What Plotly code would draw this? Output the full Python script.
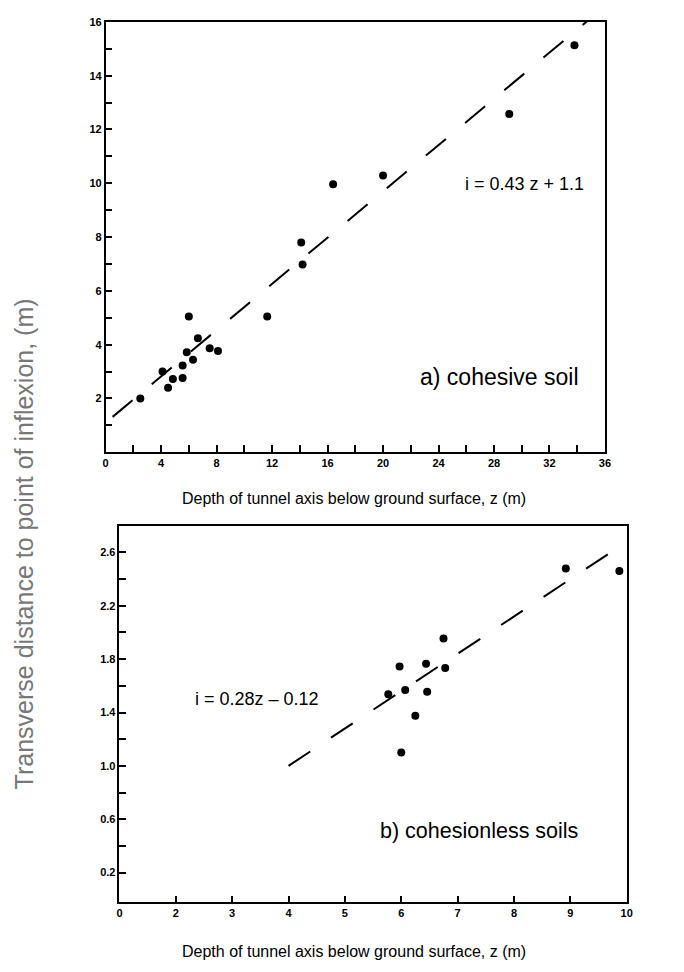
import plotly.graph_objects as go

# ---- data: a) cohesive soil ----
cohesive_z = [2.5, 4.5, 4.1, 4.85, 5.55, 5.55, 5.85, 6.3, 6.0, 6.65, 7.5, 8.1, 11.65, 14.2,
              14.1, 16.4, 20.0, 29.1, 33.8]
cohesive_i = [2.0, 2.4, 3.0, 2.72, 2.76, 3.22, 3.72, 3.44, 5.05, 4.24, 3.87, 3.76, 5.05, 6.98,
              7.8, 9.96, 10.29, 12.58, 15.13]
cohesive_fit = {"slope": 0.43, "intercept": 1.1, "z_from": 0.5, "z_to": 36}

# ---- data: b) cohesionless soils ----
cohesionless_z = [8.92, 9.87, 6.75, 5.97, 6.44, 6.78, 5.77, 6.07, 6.46, 6.25, 6.0]
cohesionless_i = [2.48, 2.46, 1.955, 1.745, 1.765, 1.733, 1.536, 1.568, 1.556, 1.376, 1.10]
cohesionless_fit = {"slope": 0.28, "intercept": -0.12, "z_from": 4.0, "z_to": 10.0}

# ---- tick labels ----
top_x_ticks = list(range(0, 37, 2))
top_x_text = [str(v) if v % 4 == 0 else "" for v in top_x_ticks]
top_y_ticks = list(range(1, 17))
top_y_text = [str(v) if v % 2 == 0 else "" for v in top_y_ticks]
bot_x_ticks = [1, 2, 3, 4, 5, 6, 7, 8, 9, 10]
bot_x_text = ["0", "2", "3", "4", "5", "6", "7", "8", "9", "10"]
bot_y_ticks = [0.2, 0.4, 0.6, 0.8, 1.0, 1.2, 1.4, 1.6, 1.8, 2.0, 2.2, 2.4, 2.6]
bot_y_text = ["0.2", "", "0.6", "", "1.0", "", "1.4", "", "1.8", "", "2.2", "", "2.6"]

W, H = 684, 972
FONT = "Liberation Sans"


def fit_line(p):
    xs = [p["z_from"], p["z_to"]]
    return xs, [p["slope"] * x + p["intercept"] for x in xs]


fig = go.Figure()

fx, fy = fit_line(cohesive_fit)
fig.add_trace(go.Scatter(x=fx, y=fy, mode="lines", xaxis="x", yaxis="y",
                         line=dict(color="black", width=2, dash="26px,25px"),
                         showlegend=False, hoverinfo="skip"))
fig.add_trace(go.Scatter(x=cohesive_z, y=cohesive_i, mode="markers", xaxis="x", yaxis="y",
                         marker=dict(color="black", size=8), showlegend=False))

gx, gy = fit_line(cohesionless_fit)
fig.add_trace(go.Scatter(x=gx, y=gy, mode="lines", xaxis="x2", yaxis="y2",
                         line=dict(color="black", width=2, dash="26px,25px"),
                         showlegend=False, hoverinfo="skip"))
fig.add_trace(go.Scatter(x=cohesionless_z, y=cohesionless_i, mode="markers", xaxis="x2", yaxis="y2",
                         marker=dict(color="black", size=8), showlegend=False))

axis_common = dict(showline=True, mirror=True, linecolor="black", linewidth=1.5,
                   ticks="inside", ticklen=7, tickwidth=1.5, tickcolor="black",
                   showgrid=False, zeroline=False, tickmode="array",
                   tickfont=dict(family=FONT, size=11, color="black", weight="bold"))

fig.update_layout(
    width=W, height=H, margin=dict(l=0, r=0, t=0, b=0),
    paper_bgcolor="white", plot_bgcolor="white",
    xaxis=dict(domain=[104 / W, 610 / W], range=[0, 36], anchor="y",
               tickvals=top_x_ticks, ticktext=top_x_text, **axis_common),
    yaxis=dict(domain=[1 - 449 / H, 1 - 16 / H], range=[0, 16], anchor="x",
               tickvals=top_y_ticks, ticktext=top_y_text, **axis_common),
    xaxis2=dict(domain=[118 / W, 632 / W], range=[1, 10], anchor="y2",
                tickvals=bot_x_ticks, ticktext=bot_x_text, **axis_common),
    yaxis2=dict(domain=[1 - 902 / H, 1 - 523 / H], range=[-0.024, 2.8], anchor="x2",
                tickvals=bot_y_ticks, ticktext=bot_y_text, **axis_common),
)


def px_ann(text, x, y, size, color="black", angle=0):
    fig.add_annotation(text=text, x=x / W, y=1 - y / H, xref="paper", yref="paper",
                       showarrow=False, xanchor="center", yanchor="middle", textangle=angle,
                       font=dict(family=FONT, size=size, color=color))


px_ann("i = 0.43 z + 1.1", 528, 179, 18)
px_ann("a) cohesive soil", 503, 373, 23)
px_ann("i = 0.28z \u2013 0.12", 257, 697, 18)
px_ann("b) cohesionless soils", 482, 830, 21.5)
px_ann("Depth of tunnel axis below ground surface, z (m)", 356, 496, 16)
px_ann("Depth of tunnel axis below ground surface, z (m)", 356, 951, 16)
px_ann("Transverse distance to point of inflexion, (m)", 21, 541, 25, color="#777777", angle=-90)

fig.write_html("out.html", config={"displayModeBar": False},
               post_script="document.body.style.margin='0';")
